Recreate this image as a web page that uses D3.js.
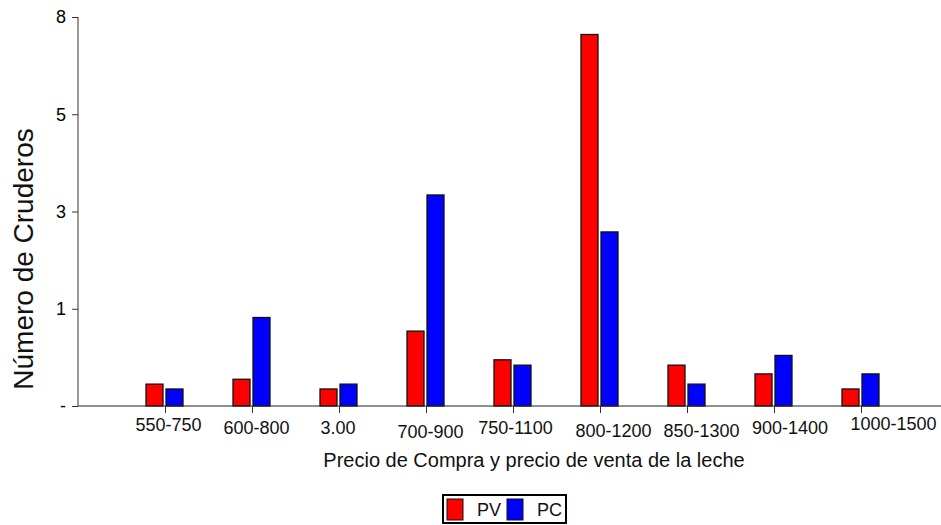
<!DOCTYPE html>
<html><head><meta charset="utf-8">
<script src="https://cdn.jsdelivr.net/npm/d3@7/dist/d3.min.js"></script>
<style>body{margin:0;background:#fff}svg{display:block;font-family:"Liberation Sans",Arial,sans-serif}</style>
</head><body><svg id="c" width="941" height="525"></svg>
<script>
const categories = ["550-750","600-800","3.00","700-900","750-1100","800-1200","850-1300","900-1400","1000-1500"];
const pvValues = [0.45,0.55,0.35,1.54,0.95,7.64,0.84,0.66,0.35];
const pcValues = [0.35,1.82,0.45,4.34,0.84,3.58,0.45,1.04,0.66];
const yTickValues = [0,2,4,6,8];
const yTickLabels = ["-","1","3","5","8"];
const seriesNames = ["PV","PC"];
const seriesColors = ["#ff0000","#0000ff"];

// layout-only nudges of the category labels (as placed in the original)
const labelNudgeX = [3,4,-1.5,4,2,13,14,15.5,32];
const labelNudgeY = [-3,0,0,4,0,3,3,0,-4];

const svg = d3.select("#c");
const mLeft = 78, mBottom = 406, mTop = 17, mRight = 941;
const step = 87;
const x = d3.scaleBand().domain(categories).range([mLeft + step/2, mLeft + step/2 + step*categories.length]).padding(0);
const y = d3.scaleLinear().domain([0,8]).range([mBottom, mTop]);
const cx = c => x(c) + x.bandwidth()/2;

// bars
const barW = 17;
const series = [pvValues, pcValues];
const offsets = [-19, 1];
series.forEach((vals, s) => {
  svg.append("g").selectAll("rect").data(categories).join("rect")
    .attr("x", (c) => cx(c) + offsets[s])
    .attr("y", (c,i) => y(vals[i]))
    .attr("width", barW)
    .attr("height", (c,i) => y(0) - y(vals[i]))
    .attr("fill", seriesColors[s])
    .attr("stroke", "#111").attr("stroke-width", 1.3);
});

// y axis
const yAxis = d3.axisLeft(y).tickValues(yTickValues).tickFormat((d,i) => yTickLabels[i]).tickSize(6).tickPadding(6);
const gy = svg.append("g").attr("transform", `translate(${mLeft},0)`).call(yAxis);
gy.select(".domain").attr("stroke","#333").attr("d", `M0,${mTop}V${mBottom}`);
gy.selectAll(".tick line").attr("stroke","#333");
gy.selectAll("text").attr("font-size", 18).attr("fill","#000").attr("font-family","Liberation Sans, Arial, sans-serif");

// x axis
const pointX = d3.scalePoint().domain(categories).range([cx(categories[0]), cx(categories[categories.length-1])]);
const xAxis = d3.axisBottom(pointX).tickSize(7).tickPadding(8);
const gx = svg.append("g").attr("transform", `translate(0,${mBottom})`).call(xAxis);
gx.select(".domain").attr("stroke","#222").attr("d", `M${mLeft},0H${mRight}`);
gx.selectAll(".tick line").attr("stroke","#333");
gx.selectAll("text").attr("font-size", 18).attr("fill","#111").attr("font-family","Liberation Sans, Arial, sans-serif")
  .attr("transform", (d,i) => `translate(${labelNudgeX[i]},${labelNudgeY[i]})`);

// axis titles
svg.append("text").attr("x", 534).attr("y", 467).attr("text-anchor","middle")
  .attr("font-size", 20).attr("fill","#111").text("Precio de Compra y precio de venta de la leche");
svg.append("text").attr("transform", "translate(33,259) rotate(-90)").attr("text-anchor","middle")
  .attr("font-size", 28).attr("fill","#111").text("Número de Cruderos");

// legend
const lg = svg.append("g");
lg.append("rect").attr("x",443).attr("y",495).attr("width",123).attr("height",28)
  .attr("fill","#fff").attr("stroke","#000").attr("stroke-width",2);
const legendX = [447, 507];
seriesNames.forEach((n,i) => {
  lg.append("rect").attr("x", legendX[i]).attr("y", 499).attr("width", 16).attr("height", 21)
    .attr("fill", seriesColors[i]).attr("stroke","#111").attr("stroke-width",1);
  lg.append("text").attr("x", legendX[i] + 30).attr("y", 516).attr("font-size", 18).attr("fill","#111").text(n);
});
</script></body></html>
